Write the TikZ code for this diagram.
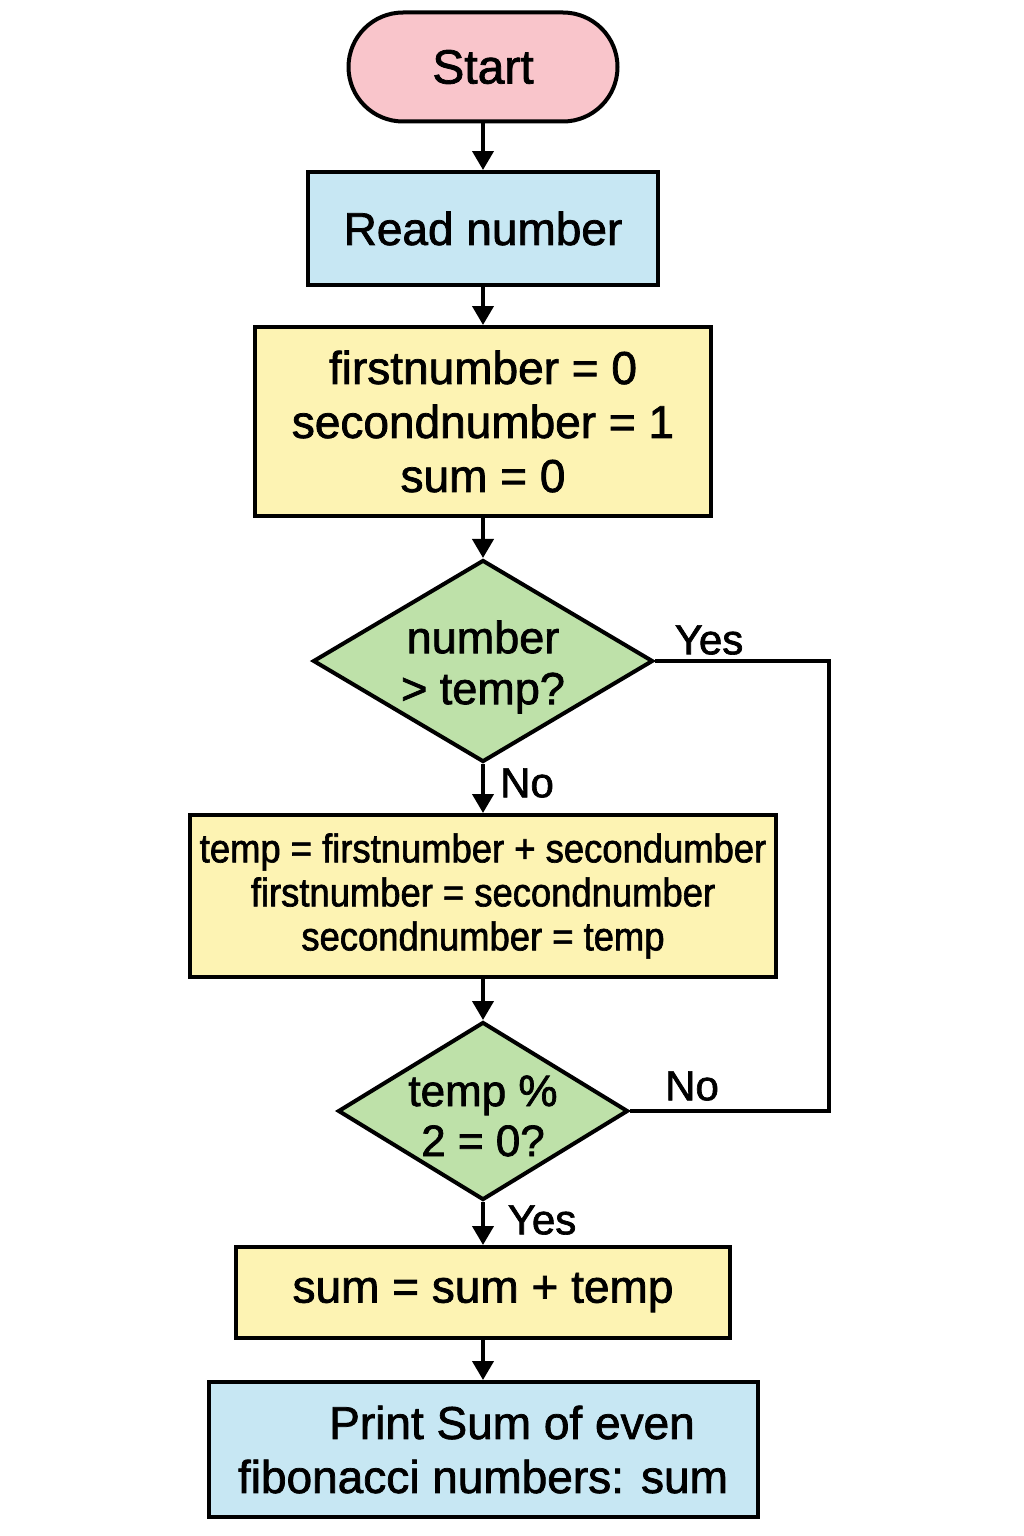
\documentclass[tikz,border=0pt]{standalone}
\usepackage{fontspec}
\setmainfont{Liberation Sans}[FakeBold=1.6]
\newfontfamily\condfont{Liberation Sans}[FakeStretch=0.91,FakeBold=1.6]
\usetikzlibrary{shapes.geometric,shapes.misc,arrows.meta}
\definecolor{pinkc}{HTML}{F9C5CB}
\definecolor{bluec}{HTML}{C7E7F3}
\definecolor{yellowc}{HTML}{FDF3B3}
\definecolor{greenc}{HTML}{BEE1A9}
\begin{document}
\begin{tikzpicture}[x=1pt,y=-1pt,
  shp/.style={draw=black, line width=4pt, inner sep=0pt, align=center, text=black},
  boxs/.style={shp, rectangle},
  big/.style={font=\fontsize{46}{54}\selectfont},
  dia/.style={shp, diamond, fill=greenc},
  dtext/.style={inner sep=0pt, align=center},
  lbl/.style={font=\fontsize{42}{48}\selectfont, inner sep=0pt},
  arr/.style={line width=4pt, -{Triangle[width=21pt,length=19pt]}},
  ln/.style={line width=4pt}]
\useasboundingbox[fill=white] (0,0) rectangle (1024,1536);

\node[shp, rounded rectangle, fill=pinkc, minimum width=269pt, minimum height=109pt, font=\fontsize{48}{54}\selectfont] (start) at (483,67) {Start};
\node[boxs, fill=bluec, minimum width=350pt, minimum height=113pt, big] (read) at (483,228.5) {Read number};
\node[boxs, fill=yellowc, minimum width=456pt, minimum height=189pt, big] (init) at (483,421.5) {firstnumber = 0\\secondnumber = 1\\sum = 0};
\node[dia, minimum width=340pt, minimum height=202pt] (d1) at (483,661) {};
\node[dtext, font=\fontsize{45}{51}\selectfont] (d1t) at (483,667) {number\\> temp?};
\node[boxs, fill=yellowc, minimum width=586pt, minimum height=162pt, font=\condfont\fontsize{40}{44}\selectfont] (calc) at (483,896) {temp = firstnumber + secondumber\\firstnumber = secondnumber\\secondnumber = temp};
\node[dia, minimum width=290pt, minimum height=178pt] (d2) at (483,1111) {};
\node[dtext, font=\fontsize{44}{50}\selectfont] (d2t) at (483,1116) {temp \%\\2 = 0?};
\node[boxs, fill=yellowc, minimum width=494pt, minimum height=91pt, big] (sum) at (483,1292.5) {sum = sum + temp};
\node[boxs, fill=bluec, minimum width=549pt, minimum height=135pt, big] (print) at (483,1449.5) {\hspace*{58pt}Print Sum of even\\fibonacci numbers: sum};

\draw[arr] (start) -- (read);
\draw[arr] (read) -- (init);
\draw[arr] (init) -- (d1);
\draw[arr] (d1) -- (calc);
\draw[arr] (calc) -- (d2);
\draw[arr] (d2) -- (sum);
\draw[arr] (sum) -- (print);

\coordinate (loopc) at (829,661);
\draw[ln] (d1.east) -- (loopc) |- (d2.east);

\node[lbl] (yes1) at (709,640) {Yes};
\node[lbl] (no1) at (527,783) {No};
\node[lbl] (no2) at (692,1086) {No};
\node[lbl] (yes2) at (542,1220) {Yes};
\end{tikzpicture}
\end{document}
